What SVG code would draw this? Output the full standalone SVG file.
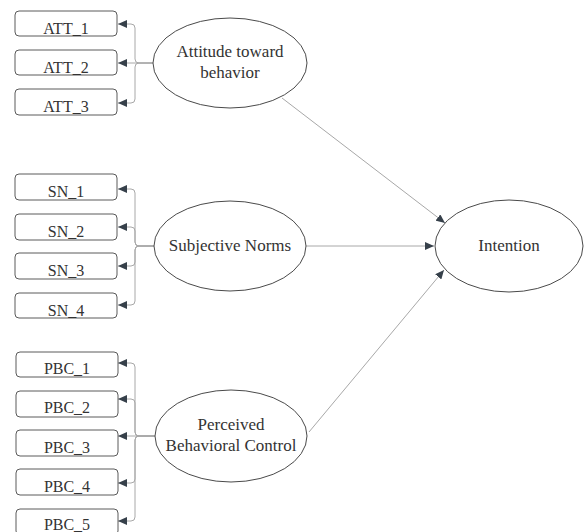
<svg xmlns="http://www.w3.org/2000/svg" width="584" height="532" viewBox="0 0 584 532">
<style>
.box{fill:#fff;stroke:#5a5a5a;stroke-width:1}
.ell{fill:#fff;stroke:#4a4a4a;stroke-width:1}
.t{font-family:'Liberation Serif','Times New Roman',serif;font-size:16px;fill:#333;text-anchor:middle}
.te{font-family:'Liberation Serif','Times New Roman',serif;font-size:17px;fill:#333;text-anchor:middle}
.c{fill:none;stroke:#a8a8a8;stroke-width:1;marker-end:url(#ah)}
</style>
<defs>
<marker id="ah" markerUnits="userSpaceOnUse" markerWidth="10" markerHeight="8" refX="9" refY="4" orient="auto">
<path d="M0,0 L9,4 L0,8 Z" fill="#36404a"/>
</marker>
</defs>
<rect width="584" height="532" fill="#fff"/>
<g id="connectors">
<path class="c" d="M153 63 H139 Q135 63 135 59 V28 Q135 24 131 24 H118"/>
<path class="c" d="M153 63 H118"/>
<path class="c" d="M153 63 H139 Q135 63 135 67 V99 Q135 103 131 103 H118"/>
<path class="c" d="M154 246 H139 Q135 246 135 242 V193 Q135 189 131 189 H118"/>
<path class="c" d="M154 246 H139 Q135 246 135 242 V231 Q135 227 131 227 H118"/>
<path class="c" d="M154 246 H139 Q135 246 135 250 V262 Q135 266 131 266 H118"/>
<path class="c" d="M154 246 H139 Q135 246 135 250 V301 Q135 305 131 305 H118"/>
<path class="c" d="M155 436 H139 Q135 436 135 432 V367 Q135 363 131 363 H118"/>
<path class="c" d="M155 436 H139 Q135 436 135 432 V403 Q135 399 131 399 H118"/>
<path class="c" d="M155 436 H118"/>
<path class="c" d="M155 436 H139 Q135 436 135 440 V479 Q135 483 131 483 H118"/>
<path class="c" d="M155 436 H139 Q135 436 135 440 V517 Q135 521 131 521 H118"/>
<path class="c" d="M282 98 L445 223"/>
<path class="c" d="M306 246 L434 246"/>
<path class="c" d="M309 432 L444 270"/>
</g>
<g id="ATT_1"><rect class="box" x="15" y="11" width="102" height="25" rx="4"/><text class="t" x="66" y="33.5">ATT_1</text></g>
<g id="ATT_2"><rect class="box" x="15" y="50" width="102" height="25" rx="4"/><text class="t" x="66" y="72.5">ATT_2</text></g>
<g id="ATT_3"><rect class="box" x="15" y="89" width="102" height="26" rx="4"/><text class="t" x="66" y="111.5">ATT_3</text></g>
<g id="SN_1"><rect class="box" x="15" y="174" width="102" height="26" rx="4"/><text class="t" x="66" y="197">SN_1</text></g>
<g id="SN_2"><rect class="box" x="15" y="214" width="102" height="26" rx="4"/><text class="t" x="66" y="236.5">SN_2</text></g>
<g id="SN_3"><rect class="box" x="15" y="253" width="102" height="26" rx="4"/><text class="t" x="66" y="275.5">SN_3</text></g>
<g id="SN_4"><rect class="box" x="15" y="293" width="102" height="25" rx="4"/><text class="t" x="66" y="315.5">SN_4</text></g>
<g id="PBC_1"><rect class="box" x="16" y="352" width="102" height="25" rx="4"/><text class="t" x="67" y="373.5">PBC_1</text></g>
<g id="PBC_2"><rect class="box" x="16" y="391" width="102" height="26" rx="4"/><text class="t" x="67" y="413">PBC_2</text></g>
<g id="PBC_3"><rect class="box" x="16" y="430" width="102" height="26" rx="4"/><text class="t" x="67" y="452.5">PBC_3</text></g>
<g id="PBC_4"><rect class="box" x="16" y="469" width="102" height="26" rx="4"/><text class="t" x="67" y="491.5">PBC_4</text></g>
<g id="PBC_5"><rect class="box" x="16" y="509" width="102" height="26" rx="4"/><text class="t" x="67" y="529.5">PBC_5</text></g>
<g id="ATT"><ellipse class="ell" cx="230" cy="63" rx="77" ry="45"/><text class="te" x="230" y="57">Attitude toward</text><text class="te" x="230" y="78">behavior</text></g>
<g id="SN"><ellipse class="ell" cx="230" cy="246" rx="76" ry="45"/><text class="te" x="230" y="251">Subjective Norms</text></g>
<g id="PBC"><ellipse class="ell" cx="231" cy="436" rx="76" ry="46"/><text class="te" x="231" y="430">Perceived</text><text class="te" x="231" y="451">Behavioral Control</text></g>
<g id="Intention"><ellipse class="ell" cx="509" cy="246" rx="74" ry="46"/><text class="te" x="509" y="251">Intention</text></g>
</svg>
